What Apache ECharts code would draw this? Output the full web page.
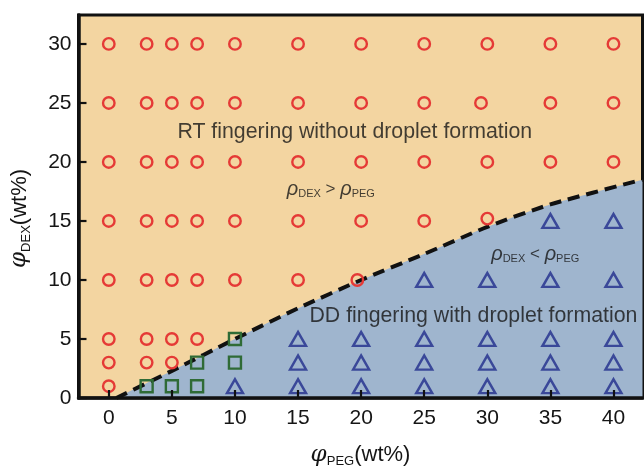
<!DOCTYPE html>
<html>
<head>
<meta charset="utf-8">
<script src="https://cdn.jsdelivr.net/npm/echarts@6/dist/echarts.min.js"></script>
<style>
html,body{margin:0;padding:0;background:#fff;}
#c{width:644px;height:473px;}
</style>
</head>
<body>
<div id="c"></div>
<script>
// ---- data ----
const xTicks = [0, 5, 10, 15, 20, 25, 30, 35, 40];
const yTicks = [0, 5, 10, 15, 20, 25, 30];

// RT fingering without droplet formation (red circles)
const circles = [
  [0,1],[0,3],[0,5],[0,10],[0,15],[0,20],[0,25],[0,30],
  [3,3],[3,5],[3,10],[3,15],[3,20],[3,25],[3,30],
  [5,3],[5,5],[5,10],[5,15],[5,20],[5,25],[5,30],
  [7,5],[7,10],[7,15],[7,20],[7,25],[7,30],
  [10,10],[10,15],[10,20],[10,25],[10,30],
  [15,10],[15,15],[15,20],[15,25],[15,30],
  [19.7,10],[20,15],[20,20],[20,25],[20,30],
  [25,15],[25,20],[25,25],[25,30],
  [30,15.2],[30,20],[29.5,25],[30,30],
  [35,20],[35,25],[35,30],
  [40,20],[40,25],[40,30]
];
// transition (green squares)
const squares = [
  [3,1],[5,1],[7,1],[7,3],[10,3],[10,5]
];
// DD fingering with droplet formation (blue triangles)
const triangles = [
  [10,1],
  [15,1],[15,3],[15,5],
  [20,1],[20,3],[20,5],
  [25,1],[25,3],[25,5],[25,10],
  [30,1],[30,3],[30,5],[30,10],
  [35,1],[35,3],[35,5],[35,10],[35,15],
  [40,1],[40,3],[40,5],[40,10],[40,15]
];
// dashed boundary  rho_DEX = rho_PEG
const boundary = [
  [0.6,0],[5,2.3],[10,5.0],[15,7.6],[20,10.0],[25,12.2],[30,14.5],[35,16.4],[42.3,18.5]
];
// annotation anchors (data coordinates) and texts
const annotations = [
  { pos: [19.5, 22.5], text: 'RT fingering without droplet formation', kind: 'big' },
  { pos: [28.9, 6.9],  text: 'DD fingering with droplet formation', kind: 'big' },
  { pos: [17.6, 17.7], text: '{r|ρ}{s|DEX}{o| > }{r|ρ}{s|PEG}', kind: 'rho' },
  { pos: [33.8, 12.2], text: '{r|ρ}{s|DEX}{o| < }{r|ρ}{s|PEG}', kind: 'rho' }
];

// ---- chart ----
const ORANGE = '#F3D5A1';
const BLUE = '#9FB5CE';
const INK = '#151515';
const SANS = 'Liberation Sans, Arial, sans-serif';

const chart = echarts.init(document.getElementById('c'), null, {renderer: 'canvas'});

const rhoRich = {
  r: {fontFamily: SANS, fontStyle: 'italic', fontSize: 20, color: INK, lineHeight: 20},
  s: {fontFamily: SANS, fontSize: 11, color: INK, verticalAlign: 'bottom', lineHeight: 16},
  o: {fontFamily: SANS, fontSize: 17, color: INK, lineHeight: 20}
};

const nameRich = {
  p: {fontFamily: 'DejaVu Serif, Liberation Serif, serif', fontStyle: 'italic', fontSize: 23, color: INK, lineHeight: 26},
  s: {fontFamily: SANS, fontSize: 13, color: INK, verticalAlign: 'bottom', lineHeight: 20},
  n: {fontFamily: SANS, fontSize: 22, color: INK, lineHeight: 26}
};

chart.setOption({
  animation: false,
  backgroundColor: '#fff',
  grid: {
    left: 74.5, right: 1.5, top: 15, bottom: 58,
    show: true, backgroundColor: ORANGE, borderColor: '#111', borderWidth: 3
  },
  xAxis: {
    type: 'value', min: -2.4, max: 42.3, z: 10,
    splitLine: {show: false},
    axisLine: {show: true, onZero: false, lineStyle: {color: '#111', width: 3.5}},
    axisTick: {show: true, inside: true, length: 8, customValues: xTicks, lineStyle: {color: '#111', width: 2.2}},
    axisLabel: {customValues: xTicks, color: INK, fontFamily: SANS, fontSize: 21, margin: 10},
    name: '{p|φ}{s|PEG}{n|(wt%)}',
    nameLocation: 'middle', nameGap: 44,
    nameTextStyle: {rich: nameRich}
  },
  yAxis: {
    type: 'value', min: 0, max: 32.45, z: 10,
    splitLine: {show: false},
    axisLine: {show: true, onZero: false, lineStyle: {color: '#111', width: 3.5}},
    axisTick: {show: true, inside: true, length: 8, customValues: yTicks, lineStyle: {color: '#111', width: 2.2}},
    axisLabel: {customValues: yTicks, color: INK, fontFamily: SANS, fontSize: 21, margin: 7},
    name: '{p|φ}{s|DEX}{n|(wt%)}',
    nameLocation: 'middle', nameGap: 46, nameRotate: 90,
    nameTextStyle: {rich: nameRich, padding: [0, 24, 0, 0]}
  },
  series: [
    {
      type: 'line', data: boundary, smooth: 0.25, symbol: 'none', z: 3, clip: true,
      lineStyle: {color: '#111', width: 4, type: [12, 7]},
      areaStyle: {color: BLUE, opacity: 1}
    },
    {
      type: 'scatter', data: circles, symbol: 'circle', symbolSize: 11.5, z: 5,
      itemStyle: {color: 'rgba(0,0,0,0)', borderColor: '#E53A36', borderWidth: 2.4, opacity: 1}
    },
    {
      type: 'scatter', data: squares, symbol: 'rect', symbolSize: 12, z: 5,
      itemStyle: {color: 'rgba(0,0,0,0)', borderColor: '#2F6B36', borderWidth: 2.4, opacity: 1}
    },
    {
      type: 'scatter', data: triangles, symbol: 'triangle', symbolSize: [16, 14], z: 5,
      itemStyle: {color: 'rgba(0,0,0,0)', borderColor: '#3A4899', borderWidth: 2.4, opacity: 1}
    },
    {
      type: 'scatter', symbolSize: 0, z: 6, silent: true,
      data: annotations.map(a => ({
        value: a.pos,
        label: a.kind === 'big'
          ? {show: true, position: 'inside', formatter: a.text, color: INK, fontFamily: SANS, fontSize: 21.3}
          : {show: true, position: 'inside', formatter: a.text, rich: rhoRich}
      }))
    }
  ]
});
</script>
</body>
</html>
